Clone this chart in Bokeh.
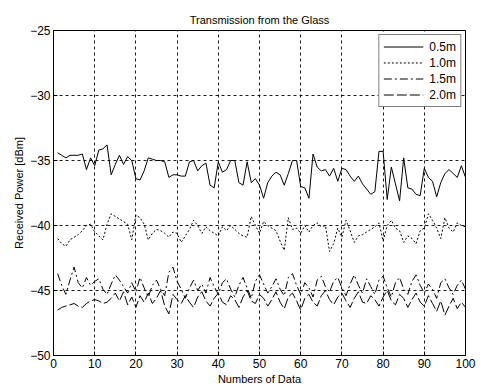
from bokeh.plotting import figure
from bokeh.models import Range1d, Legend, LegendItem, FixedTicker, ColumnDataSource
from bokeh.embed import file_html
from bokeh.resources import INLINE

x_idx = list(range(1, 101))

p05 = [-34.4, -34.6, -34.8, -34.6, -34.6, -34.6, -34.5, -35.7, -34.8, -35.4,
       -34.2, -34.1, -33.8, -36.1, -35.3, -34.6, -35.3, -34.7, -35.0, -36.4,
       -36.5, -35.8, -34.8, -34.9, -35.0, -35.0, -35.1, -36.3, -36.1, -36.1,
       -36.2, -36.2, -35.1, -35.0, -35.8, -35.4, -35.2, -36.9, -37.1, -35.1,
       -35.9, -35.7, -35.0, -35.0, -36.7, -36.9, -35.1, -36.7, -36.4, -36.9,
       -37.9, -36.7, -36.2, -35.9, -36.1, -36.9, -36.0, -35.0, -35.0, -37.0,
       -37.1, -37.9, -34.5, -35.5, -35.8, -35.7, -36.2, -35.6, -36.6, -35.6,
       -35.7, -36.2, -36.6, -36.2, -36.8, -37.2, -37.6, -37.4, -34.3, -34.3,
       -38.0, -35.5, -36.8, -38.1, -34.8, -37.1, -37.2, -37.6, -37.7, -35.6,
       -36.3, -36.6, -37.8, -36.7, -36.0, -35.7, -36.0, -36.3, -35.4, -36.3]

p10 = [-41.0, -41.4, -41.6, -41.1, -40.9, -40.7, -40.4, -40.0, -39.9, -40.5,
       -40.8, -41.1, -39.9, -39.1, -39.3, -39.5, -39.7, -39.9, -41.1, -39.2,
       -39.4, -39.9, -41.1, -40.6, -40.3, -40.4, -40.6, -40.9, -40.5, -40.6,
       -41.3, -40.8, -40.3, -39.6, -40.0, -40.6, -40.1, -40.4, -40.6, -40.8,
       -40.1, -40.4, -40.0, -40.3, -40.6, -40.8, -40.9, -39.3, -40.0, -40.6,
       -39.7, -40.0, -40.2, -40.4, -41.2, -41.9, -39.4, -40.3, -40.2, -40.6,
       -40.0, -40.5, -40.0, -39.8, -40.1, -40.0, -42.0, -41.4, -40.2, -40.9,
       -39.6, -40.4, -41.3, -40.8, -40.7, -40.5, -40.3, -40.1, -39.8, -41.2,
       -40.0, -39.6, -40.2, -40.4, -41.3, -40.8, -41.0, -41.4, -40.4, -40.2,
       -39.1, -39.6, -40.2, -41.0, -39.4, -40.2, -40.5, -39.8, -40.0, -40.1]

p15 = [-43.7, -44.6, -45.3, -44.2, -43.2, -44.4, -44.8, -44.0, -44.6, -44.3,
       -44.1, -44.9, -45.3, -44.5, -43.8, -44.2, -44.7, -45.2, -44.4, -45.1,
       -44.0, -44.8, -45.5, -44.6, -44.2, -44.9, -45.4, -43.6, -43.2, -44.3,
       -44.9, -45.6, -44.8, -44.2, -45.0, -44.5, -45.2, -44.0, -44.7, -45.3,
       -44.4, -44.1, -44.9, -45.5, -44.6, -44.0, -44.8, -45.6, -44.3, -43.8,
       -44.5, -45.2, -44.7, -44.1, -44.9, -45.4, -44.0, -43.7, -44.6, -45.3,
       -44.4, -44.8, -45.5, -44.2, -43.9, -44.7, -45.1, -44.3, -44.0, -44.8,
       -45.4, -44.5, -43.8, -44.6, -45.2, -44.1, -44.7, -45.3, -44.2, -43.9,
       -44.8, -45.5, -44.4, -44.0, -44.9, -45.3, -44.3, -43.8, -44.6, -45.2,
       -44.5, -44.9, -45.6, -44.4, -44.1, -44.8, -45.3, -44.6, -44.2, -44.9]

p20 = [-46.5, -46.3, -46.2, -46.1, -46.0, -46.2, -46.3, -46.0, -45.8, -45.7,
       -45.8, -46.0, -45.9, -45.6, -45.2, -45.8, -45.1, -46.1, -45.5, -46.3,
       -45.4, -45.9, -45.2, -46.0, -45.6, -45.0, -46.2, -46.8, -45.3, -45.7,
       -46.0, -45.4, -45.9, -46.3, -45.5, -45.1, -45.8, -46.2, -45.6, -45.2,
       -45.9, -46.1, -45.4, -45.7, -46.3, -45.5, -45.0, -45.8, -46.0, -45.3,
       -45.6, -46.2, -45.7, -45.1, -45.9, -46.4, -45.5, -45.2, -45.8, -46.5,
       -45.6, -45.3, -45.9, -46.2, -45.4, -45.0, -45.7, -46.1, -45.5, -45.2,
       -45.8, -46.3, -45.6, -45.1, -45.9, -46.0, -45.4, -45.7, -46.2, -45.5,
       -45.0, -45.8, -46.1, -45.3, -45.6, -46.3, -45.7, -45.2, -45.9, -46.2,
       -45.4, -46.0, -46.6, -45.8, -46.9, -46.2, -45.6, -46.4, -45.9, -46.3]

series_labels = ["0.5m", "1.0m", "1.5m", "2.0m"]
x_ticks = [0, 10, 20, 30, 40, 50, 60, 70, 80, 90, 100]
y_ticks = [-50, -45, -40, -35, -30, -25]

FONT = "Liberation Sans"

p = figure(width=481, height=391, output_backend="svg", toolbar_location=None,
           x_range=Range1d(0, 100), y_range=Range1d(-50, -25),
           min_border_left=53, min_border_right=16, min_border_top=30, min_border_bottom=36)
p.title.text = "Transmission from the Glass"
p.title.align = "center"
p.title.text_font = FONT
p.title.text_font_size = "11px"
p.title.text_font_style = "normal"
p.title.text_color = "black"
p.title.offset = 0
p.title.standoff = 9

p.outline_line_color = "black"
p.outline_line_width = 1
p.background_fill_color = "white"
p.border_fill_color = "white"

for ax in (p.xaxis[0], p.yaxis[0]):
    ax.axis_line_color = "black"
    ax.major_tick_in = 4
    ax.major_tick_out = 0
    ax.minor_tick_in = 0
    ax.minor_tick_out = 0
    ax.major_tick_line_color = "black"
    ax.major_label_text_font = FONT
    ax.major_label_text_font_size = "12px"
    ax.major_label_text_color = "black"
    ax.axis_label_text_font = FONT
    ax.axis_label_text_font_size = "11px"
    ax.axis_label_text_font_style = "normal"
    ax.axis_label_text_color = "black"
    ax.major_label_standoff = 3
    ax.axis_label_standoff = 2

p.xaxis[0].ticker = FixedTicker(ticks=x_ticks)
p.yaxis[0].ticker = FixedTicker(ticks=y_ticks)
p.xaxis[0].axis_label = "Numbers of Data"
p.yaxis[0].axis_label = "Received Power [dBm]"

for g in (p.xgrid[0], p.ygrid[0]):
    g.grid_line_color = "black"
    g.grid_line_dash = "3 3"
    g.grid_line_width = 1
    g.grid_line_alpha = 0.9

dashes = ["solid", "2 2", "8 3 2 3", "10 3"]
data = [p05, p10, p15, p20]
items = []
for lab, ys, d in zip(series_labels, data, dashes):
    src = ColumnDataSource(dict(x=x_idx, y=ys))
    r = p.line("x", "y", source=src, line_color="black", line_width=1, line_dash=d)
    items.append(LegendItem(label=lab, renderers=[r]))

legend = Legend(items=items, location="top_right")
legend.label_text_font = FONT
legend.label_text_font_size = "12px"
legend.label_text_color = "black"
legend.border_line_color = "black"
legend.border_line_width = 1
legend.background_fill_color = "white"
legend.background_fill_alpha = 1
legend.glyph_width = 40
legend.glyph_height = 15
legend.label_height = 15
legend.spacing = 1
legend.padding = 4
legend.margin = 4
legend.label_standoff = 6
p.add_layout(legend, "center")

open("out.html", "w").write(file_html(p, INLINE))
